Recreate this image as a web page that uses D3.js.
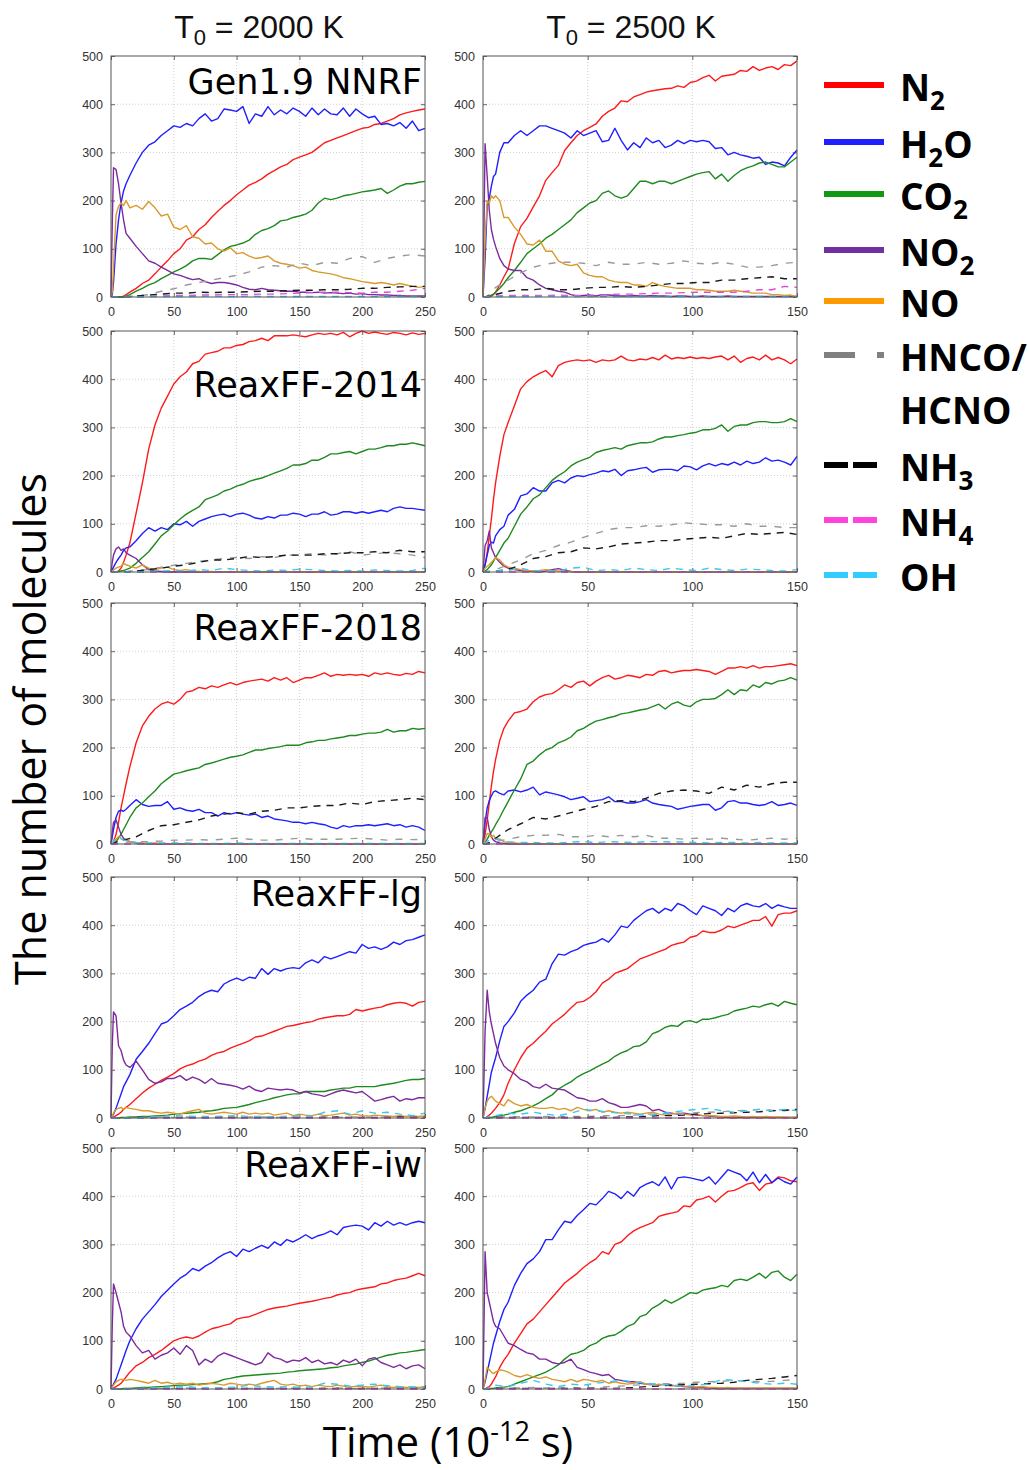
<!DOCTYPE html>
<html>
<head>
<meta charset="utf-8">
<script src="https://cdn.jsdelivr.net/npm/d3@7"></script>
<style>
body { margin: 0; background: #fff; }
svg { display: block; }
</style>
</head>
<body>
<script>
// time grids (ps): dense grid for the main species, coarse grid for the minor (dashed) ones
const tA = [0,1,2,4,6,8,10,12,15,20,25,30,35,40,45,50,55,60,65,70,75,80,85,90,95,100,105,110,115,120,125,130,135,140,145,150,155,160,165,170,175,180,185,190,195,200,205,210,215,220,225,230,235,240,245,250]
const tB = [0,1,2,3,4,5,6,8,10,12,15,18,21,24,27,30,33,36,39,42,45,48,51,54,57,60,63,66,69,72,75,78,81,84,87,90,93,96,99,102,105,108,111,114,117,120,123,126,129,132,135,138,141,144,147,150]
const tAm = [0,2,5,10,20,30,40,50,60,70,80,90,100,110,120,130,140,150,160,170,180,190,200,210,220,230,240,250]
const tBm = [0,1,3,6,12,18,24,30,36,42,48,54,60,66,72,78,84,90,96,102,108,114,120,126,132,138,144,150]

const species = ['N2', 'H2O', 'CO2', 'NO2', 'NO', 'HNCO/', 'NH3', 'NH4', 'OH']
const rowLabels = ['Gen1.9 NNRF', 'ReaxFF-2014', 'ReaxFF-2018', 'ReaxFF-lg', 'ReaxFF-iw']
const colTitles = ['2000 K', '2500 K']
const yTicks = [0, 100, 200, 300, 400, 500]
const xTicks2000 = [0, 50, 100, 150, 200, 250]
const xTicks2500 = [0, 50, 100, 150]

const none = [0,0,0,0,0,0,0,0,0,0, 0,0,0,0,0,0,0,0,0,0, 0,0,0,0,0,0,0,0]

// ---- Gen1.9 NNRF, 2000 K
const nnrf2000_N2 = [0,0,0,0,0,0,2,5,10, 18,28,35,48,62,75,90,100,118,125, 140,150,165,178,190,200,212,222,232,238, 245,255,262,270,275,285,290,295,300,310, 320,325,330,335,340,345,350,352,358,360, 365,370,378,382,385,388,390]
const nnrf2000_H2O = [0,5,30,110,160,195,220,235,252, 278,300,315,322,335,345,355,352,360,355, 370,380,365,370,390,388,385,395,360,380, 375,395,378,388,380,392,385,375,392,378, 390,380,378,392,375,390,380,372,375,358, 360,355,362,350,365,345,350]
const nnrf2000_CO2 = [0,0,0,0,0,0,0,2,5, 12,18,25,30,38,45,52,58,65,75, 80,80,78,88,98,105,108,112,118,130, 138,142,148,158,160,165,168,172,180,195, 205,202,205,210,212,215,218,220,222,225, 215,222,230,235,235,238,240]
const nnrf2000_NO2 = [0,150,268,265,235,195,160,132,122, 105,90,75,70,62,55,48,45,40,36, 38,32,28,30,30,28,25,20,16,15, 18,15,14,13,12,12,10,10,9,10, 8,9,8,7,8,6,7,5,5,4, 4,3,3,2,2,2,2]
const nnrf2000_NO = [0,10,60,170,188,195,190,200,185, 190,182,198,185,168,172,145,140,148,125, 122,110,112,100,95,102,90,92,85,80, 82,85,75,70,68,65,60,62,55,52, 50,48,45,40,38,35,32,30,28,30, 28,25,28,25,22,20,22]
const nnrf2000_HNCO = [0,0,0,0,2,5,12,17,25,30, 35,40,45,52,62,65,62,70,65,72, 70,80,84,72,80,85,88,85]
const nnrf2000_NH3 = [0,0,0,0,2,4,6,8,8,10, 9,10,10,11,12,12,13,14,14,15, 15,16,18,18,20,21,22,22]
const nnrf2000_NH4 = [0,0,0,0,0,1,2,3,3,4, 4,5,5,5,6,6,7,8,9,10, 10,9,8,10,10,12,14,18]
const nnrf2000_OH = [0,0,0,0,0,1,1,1,1,1, 2,1,1,2,1,1,1,1,1,1, 1,1,1,1,1,1,1,1]

// ---- Gen1.9 NNRF, 2500 K
const nnrf2500_N2 = [0,0,0,0,2,5,10,25,42, 58,111,146,163,187,210,242,258,273,304, 320,335,345,352,359,375,385,392,407,405, 415,420,425,428,430,432,433,438,435,445, 448,455,460,448,458,460,462,470,468,478, 470,475,478,472,482,480,490]
const nnrf2500_H2O = [0,80,190,205,230,250,255,300,320, 320,335,345,335,345,355,355,350,345,340, 330,345,335,340,345,322,325,350,325,305, 320,310,330,320,325,310,315,325,318,325, 322,325,322,308,310,295,300,295,292,288, 290,275,280,278,272,290,305]
const nnrf2500_CO2 = [0,0,0,2,4,6,10,18,28, 40,55,72,90,100,110,122,130,140,150, 160,175,185,195,200,215,220,210,205,210, 225,240,240,235,240,240,235,240,245,250, 255,258,260,245,255,240,252,262,268,272, 278,280,275,270,270,280,290]
const nnrf2500_NO2 = [0,318,250,180,140,120,105,80,65, 58,55,55,40,35,25,18,15,12,10, 5,2,3,4,2,5,4,3,2,2, 3,2,2,3,2,2,1,2,2,1, 1,2,1,1,1,2,1,1,1,1, 1,1,1,1,1,1,1]
const nnrf2500_NO = [0,120,200,195,210,205,210,200,165, 165,145,130,110,108,118,95,95,75,68, 65,68,50,45,42,42,35,32,30,30, 25,25,22,30,25,22,20,18,18,18, 15,15,14,12,12,12,14,12,10,8, 8,8,5,5,3,4,0]
const nnrf2500_HNCO = [0,0,5,20,35,50,62,68,72,72, 70,65,72,68,68,72,68,70,75,70, 68,72,68,62,62,65,70,72]
const nnrf2500_NH3 = [0,0,2,5,12,15,15,18,15,15, 18,20,20,22,20,22,25,28,28,30, 30,35,35,38,40,42,38,38]
const nnrf2500_NH4 = [0,0,1,2,3,3,3,3,4,3, 3,4,5,6,6,7,8,8,9,10, 10,10,10,12,15,15,22,20]
const nnrf2500_OH = [0,0,1,1,1,1,1,2,1,1, 1,1,1,1,1,1,1,1,1,1, 1,1,1,1,1,1,1,1]

// ---- ReaxFF-2014, 2000 K
const rx14_2000_N2 = [0,0,0,0,2,8,20,35,60, 122,185,255,305,340,365,390,405,415,432, 437,452,455,458,465,465,470,472,478,480, 485,480,490,490,490,492,490,488,492,495, 493,495,492,497,488,495,500,495,498,495, 493,497,495,492,496,493,495]
const rx14_2000_H2O = [0,5,10,20,28,35,45,50,52, 65,80,92,85,92,88,100,98,105,95, 105,110,115,118,120,115,120,122,118,112, 110,115,112,118,118,122,120,115,120,120, 125,118,120,125,125,122,125,122,125,128, 125,132,135,132,132,130,128]
const rx14_2000_CO2 = [0,0,0,0,1,2,3,5,8, 18,30,42,58,75,85,98,110,120,128, 135,150,155,160,168,172,178,182,188,192, 195,200,205,210,215,222,222,225,232,232, 238,245,245,248,250,245,250,255,255,258, 262,262,265,265,268,265,262]
const rx14_2000_NO2 = [0,20,35,48,52,45,48,40,35, 28,15,5,2,1,0,0,0,0,0, 0,0,0,0,0,0,0,0,0,0, 0,0,0,0,0,0,0,0,0,0, 0,0,0,0,0,0,0,0,0,0, 0,0,0,0,0,0,0]
const rx14_2000_NO = [0,2,4,8,10,12,18,15,12, 8,15,8,5,8,10,5,3,5,2, 1,0,1,0,0,1,0,0,0,0, 0,0,0,0,0,0,0,0,0,0, 0,0,0,0,0,0,0,0,0,0, 0,0,0,0,0,0,0]
const rx14_2000_HNCO = [0,0,0,0,3,5,10,14,18,22, 25,28,30,28,32,30,35,35,38,35, 38,42,35,38,40,38,35,30]
const rx14_2000_NH3 = [0,0,0,0,2,5,8,12,15,20, 25,25,28,32,30,32,35,35,35,38, 38,40,40,42,40,45,42,42]
const rx14_2000_OH = [0,0,0,0,0,1,2,3,2,5, 3,8,5,3,2,4,3,6,5,3, 2,3,2,4,3,2,3,8]

// ---- ReaxFF-2014, 2500 K
const rx14_2500_N2 = [0,15,40,75,110,150,185,240,285, 310,345,380,395,405,412,418,405,428,435, 438,440,438,440,435,440,438,440,448,440, 438,442,440,445,440,450,442,445,443,446, 443,445,443,446,448,440,448,435,443,446, 440,450,440,445,440,432,442]
const rx14_2500_H2O = [0,15,35,55,62,60,75,88,95, 118,130,158,162,175,168,168,185,190,185, 195,200,198,202,205,210,208,213,200,210, 212,215,217,207,212,213,213,210,220,218, 212,220,225,220,225,222,228,222,230,225, 228,237,230,232,228,222,240]
const rx14_2500_CO2 = [0,2,5,10,15,22,30,45,60, 70,95,120,135,152,160,175,190,200,208, 220,228,233,238,248,252,255,258,255,262, 265,268,268,270,276,280,280,283,285,288, 290,295,295,298,305,292,302,305,305,310, 312,312,310,310,312,318,312]
const rx14_2500_NO2 = [0,55,65,85,50,40,30,20,12, 8,5,3,2,1,0,2,5,7,4, 1,0,0,0,0,0,0,0,0,0, 0,0,0,0,0,0,0,0,0,0, 0,0,0,0,0,0,0,0,0,0, 0,0,0,0,0,0,0]
const rx14_2500_NO = [0,8,12,15,20,25,30,25,15, 10,8,5,3,2,3,5,3,2,1, 1,0,0,0,0,0,0,0,0,0, 0,0,0,0,0,0,0,0,0,0, 0,0,0,0,0,0,0,0,0,0, 0,0,0,0,0,0,0]
const rx14_2500_HNCO = [0,0,2,5,15,25,38,45,55,62, 72,80,88,92,92,96,95,98,102,100, 98,98,95,100,95,95,92,92]
const rx14_2500_NH3 = [0,0,0,2,5,15,28,32,40,42, 50,48,52,58,60,62,65,65,68,70, 72,70,75,80,78,80,82,78]
const rx14_2500_OH = [0,0,0,2,3,8,2,3,2,8, 10,3,5,3,8,5,3,8,5,3, 8,5,3,6,5,3,2,5]

// ---- ReaxFF-2018, 2000 K
const rx18_2000_N2 = [0,2,5,20,45,75,100,125,160, 210,245,265,280,290,295,290,300,315,318, 325,322,328,325,330,335,330,335,338,340, 342,338,345,340,345,335,340,345,345,350, 355,348,352,350,352,350,352,348,355,352, 355,352,350,354,352,358,355]
const rx18_2000_H2O = [0,15,30,55,68,70,68,72,80, 92,82,78,80,80,88,72,75,70,68, 72,65,65,58,65,62,65,62,60,62, 55,58,52,50,48,45,45,42,45,42, 40,35,32,38,35,38,38,40,38,40, 42,38,40,35,38,35,28]
const rx18_2000_CO2 = [0,0,1,5,12,20,30,40,55, 75,85,98,110,125,135,145,148,152,155, 158,165,168,172,176,180,182,185,190,195, 195,198,200,202,205,205,205,210,212,215, 215,218,220,222,225,225,228,230,230,232, 238,232,235,235,240,238,240]
const rx18_2000_NO2 = [0,25,45,50,35,20,12,8,5, 2,1,0,0,0,0,0,0,0,0, 0,0,0,0,0,0,0,0,0,0, 0,0,0,0,0,0,0,0,0,0, 0,0,0,0,0,0,0,0,0,0, 0,0,0,0,0,0,0]
const rx18_2000_NO = [0,2,5,10,15,12,8,10,5, 3,2,1,2,1,0,1,0,0,0, 0,0,0,0,0,0,0,0,0,0, 0,0,0,0,0,0,0,0,0,0, 0,0,0,0,0,0,0,0,0,0, 0,0,0,0,0,0,0]
const rx18_2000_HNCO = [0,0,2,3,5,5,6,8,8,9, 8,10,12,10,8,8,10,12,10,10, 10,11,12,10,8,10,9,10]
const rx18_2000_NH3 = [0,2,5,8,15,28,38,40,45,50, 58,62,65,62,68,70,75,75,78,80, 80,85,82,88,90,92,95,92]
const rx18_2000_OH = [0,5,15,8,3,2,2,2,2,1, 1,1,2,1,1,1,1,1,1,1, 1,1,1,1,1,1,1,1]

// ---- ReaxFF-2018, 2500 K
const rx18_2500_N2 = [0,20,50,85,120,150,175,215,240, 255,272,275,280,295,305,310,312,320,330, 325,335,338,328,338,345,350,342,345,350, 348,345,352,350,358,360,355,358,360,360, 362,360,358,352,358,365,365,368,365,370, 365,368,368,370,372,374,370]
const rx18_2500_H2O = [0,45,75,90,100,108,110,105,102, 110,112,108,112,118,102,108,105,102,98, 92,95,98,88,90,92,98,88,88,85, 85,88,92,85,82,80,78,72,75,78, 80,82,82,70,75,88,90,85,85,82, 80,82,88,80,82,85,80]
const rx18_2500_CO2 = [0,3,10,18,25,32,40,55,72, 88,112,135,165,172,185,195,200,210,215, 222,235,240,248,255,258,262,265,270,272, 275,278,280,285,290,280,290,295,288,285, 295,300,300,302,310,320,310,320,318,330, 325,335,332,338,340,345,340]
const rx18_2500_NO2 = [0,55,55,30,15,8,5,2,1, 0,0,0,0,0,0,0,0,0,0, 0,0,0,0,0,0,0,0,0,0, 0,0,0,0,0,0,0,0,0,0, 0,0,0,0,0,0,0,0,0,0, 0,0,0,0,0,0,0]
const rx18_2500_NO = [0,10,22,20,15,18,12,10,5, 3,2,1,1,0,0,0,0,0,0, 0,0,0,0,0,0,0,0,0,0, 0,0,0,0,0,0,0,0,0,0, 0,0,0,0,0,0,0,0,0,0, 0,0,0,0,0,0,0]
const rx18_2500_HNCO = [0,0,2,5,10,15,18,18,20,15, 15,18,15,18,15,18,12,12,10,12, 10,12,10,8,10,12,10,12]
const rx18_2500_NH3 = [0,0,3,12,30,42,55,52,58,65, 72,78,88,90,88,95,105,110,112,110, 105,118,112,122,118,125,128,128]
const rx18_2500_OH = [0,2,8,10,5,3,3,2,2,4, 5,3,5,4,3,5,5,4,4,3, 2,3,3,2,3,2,2,2]

// ---- ReaxFF-lg, 2000 K
const rxlg_2000_N2 = [0,0,2,5,8,12,18,22,28, 40,52,62,70,78,85,92,102,108,112, 118,122,130,135,138,145,150,155,160,168, 170,175,180,185,190,192,195,198,200,205, 208,210,212,212,215,225,222,225,228,230, 235,238,240,238,232,240,242]
const rxlg_2000_H2O = [0,4,8,20,35,50,65,75,90, 122,138,155,175,195,200,212,225,232,240, 252,260,265,262,278,285,290,285,292,290, 310,298,310,305,310,312,310,322,328,322, 335,330,335,340,345,342,360,352,355,350, 355,365,360,368,370,375,380]
const rxlg_2000_CO2 = [0,0,0,0,0,1,1,1,2, 2,3,3,4,5,6,8,9,10,11, 12,14,15,17,20,21,22,25,28,32, 35,38,42,45,48,50,50,55,55,55, 55,58,60,62,62,65,65,65,65,68, 70,72,75,78,80,80,82]
const rxlg_2000_NO2 = [0,150,220,212,150,140,120,110,105, 118,100,80,72,75,82,82,88,78,85, 80,72,82,72,70,68,65,60,66,58, 55,62,60,58,60,58,52,55,50,48, 45,50,55,58,55,52,55,45,35,38, 42,45,35,40,38,42,42]
const rxlg_2000_NO = [0,5,10,18,20,22,18,22,20, 18,15,15,12,10,12,10,8,12,15, 18,10,8,10,12,10,8,12,8,10, 8,10,6,8,10,5,8,6,5,8, 5,6,8,10,6,8,5,4,6,5, 4,3,5,3,4,3,4]
const rxlg_2000_HNCO = [0,0,0,1,1,1,2,1,2,1, 2,2,1,2,2,1,2,1,2,2, 1,2,2,1,2,2,1,2]
const rxlg_2000_NH3 = [0,0,0,0,1,1,1,1,1,1, 1,2,1,1,1,2,1,1,1,1, 2,1,1,1,1,2,1,1]
const rxlg_2000_OH = [0,0,0,0,0,2,3,5,4,3, 3,4,5,3,3,2,4,5,4,12, 15,8,15,10,12,8,5,10]

// ---- ReaxFF-lg, 2500 K
const rxlg_2500_N2 = [0,0,3,6,10,15,20,32,48, 72,100,125,145,155,168,180,195,205,215, 228,240,242,250,262,280,288,300,305,310, 320,330,335,340,345,350,358,362,365,375, 378,388,385,385,390,398,395,400,405,410, 410,418,398,422,425,425,430]
const rxlg_2500_H2O = [0,20,45,70,95,110,125,160,190, 200,218,242,255,265,282,288,320,340,338, 345,350,358,362,365,372,365,380,398,395, 410,420,430,435,425,435,430,445,440,430, 422,440,435,430,420,435,428,440,445,440, 438,445,435,442,438,435,435]
const rxlg_2500_CO2 = [0,0,0,1,1,2,3,5,6, 8,12,15,20,25,32,40,48,60,68, 75,85,92,98,105,112,118,128,135,140, 148,150,158,175,180,188,192,190,200,202, 198,205,205,208,212,215,222,225,228,232, 230,235,238,232,242,238,235]
const rxlg_2500_NO2 = [0,180,265,220,195,175,155,125,108, 100,92,80,75,65,62,70,62,60,58, 50,42,40,35,35,40,32,28,22,22, 25,28,25,15,18,12,10,8,10,8, 6,5,4,3,2,1,1,1,1,1, 1,1,1,1,1,1,1]
const rxlg_2500_NO = [0,20,35,42,45,40,35,30,25, 38,30,25,28,22,20,20,22,18,20, 15,22,18,15,18,12,15,12,10,12, 10,8,10,12,8,6,8,10,8,6, 8,5,5,4,3,3,4,3,2,3, 2,3,2,2,2,1,2]
const rxlg_2500_HNCO = [0,0,1,2,2,3,2,3,2,3, 3,4,5,5,6,8,8,10,10,11, 12,13,15,16,18,16,15,18]
const rxlg_2500_NH3 = [0,0,0,1,1,1,1,1,1,1, 1,2,1,2,2,3,5,5,6,8, 9,10,11,12,13,15,16,18]
const rxlg_2500_OH = [0,0,3,5,10,8,12,8,5,10, 18,15,12,10,8,5,8,12,15,18, 20,15,12,15,18,15,18,15]

// ---- ReaxFF-iw, 2000 K
const rxiw_2000_N2 = [0,0,2,5,8,12,18,25,35, 48,55,65,72,80,90,100,105,108,105, 110,118,125,128,132,135,145,148,150,155, 160,165,168,170,172,175,178,180,182,185, 188,190,195,198,200,205,208,210,212,218, 220,225,228,230,235,240,235]
const rxiw_2000_H2O = [0,5,10,20,35,50,65,80,100, 125,145,160,175,192,205,218,230,238,250, 245,255,262,272,280,285,275,290,285,292, 298,292,305,298,310,305,312,320,312,318, 322,328,320,335,338,340,338,330,345,338, 348,340,345,340,345,348,345]
const rxiw_2000_CO2 = [0,0,0,0,0,0,1,1,1, 2,3,3,4,5,6,7,8,8,9, 10,11,12,15,20,22,25,27,28,29, 30,31,32,33,35,36,38,39,40,41, 42,44,45,48,50,52,55,58,62,66, 70,72,75,76,78,80,82]
const rxiw_2000_NO2 = [0,130,218,200,180,160,130,118,110, 90,75,80,62,70,75,85,72,90,80, 50,62,55,68,75,70,65,60,55,50, 55,75,65,62,55,60,58,65,55,60, 52,55,50,60,55,62,48,62,65,55, 50,45,50,42,48,50,42]
const rxiw_2000_NO = [0,5,8,15,18,20,20,18,20, 18,15,12,18,12,14,10,12,10,12, 8,10,12,10,8,12,10,8,10,8, 12,15,18,10,8,10,6,8,5,8, 6,5,8,6,4,6,5,4,6,8, 5,3,5,3,4,3,4]
const rxiw_2000_HNCO = [0,0,0,1,1,1,1,1,2,1, 1,1,2,1,1,1,2,1,1,1, 2,1,1,1,2,1,1,1]
const rxiw_2000_NH3 = [0,0,0,0,1,1,1,1,1,1, 1,1,1,1,1,1,1,1,1,1, 1,1,1,1,1,1,1,1]
const rxiw_2000_OH = [0,0,0,0,1,2,3,4,5,3, 2,3,4,8,5,4,5,3,5,12, 10,6,8,10,7,5,4,5]

// ---- ReaxFF-iw, 2500 K
const rxiw_2500_N2 = [0,0,3,5,10,18,25,45,60, 72,95,115,135,145,160,175,190,205,220, 230,240,252,262,270,285,280,300,305,318, 328,335,340,345,358,362,365,368,380,378, 392,395,400,388,400,410,412,418,425,428, 412,425,428,440,438,432,430]
const rxiw_2500_H2O = [0,15,35,55,75,95,110,140,165, 180,215,240,260,270,285,310,310,330,348, 345,360,372,385,382,395,410,405,395,410, 400,418,425,430,422,440,415,438,440,438, 435,432,440,425,440,455,450,445,432,450, 428,445,428,438,430,425,440]
const rxiw_2500_CO2 = [0,0,0,1,1,1,2,3,4, 5,10,15,20,25,30,35,42,50,62, 72,75,80,90,95,105,110,112,120,130, 135,150,155,168,175,185,178,185,192,200, 198,205,208,210,215,212,225,228,225,232, 240,230,242,245,232,225,238]
const rxiw_2500_NO2 = [0,285,200,180,160,140,130,125,110, 95,90,82,75,72,62,62,55,52,55, 62,45,40,35,32,28,30,20,18,15, 15,12,10,10,8,10,8,6,5,4, 3,3,2,1,1,1,1,1,1,1, 1,1,1,1,1,1,1]
const rxiw_2500_NO = [0,20,45,40,35,32,35,40,38, 35,28,25,30,25,22,25,20,18,15, 20,15,20,18,15,18,12,15,12,10, 12,15,10,8,10,8,6,8,6,5, 4,5,3,3,2,3,2,2,2,2, 2,2,2,2,2,2,2]
const rxiw_2500_HNCO = [0,0,1,2,2,2,3,2,2,3, 2,3,5,6,8,9,10,11,12,14, 15,16,18,16,15,16,18,20]
const rxiw_2500_NH3 = [0,0,0,1,1,1,1,1,1,1, 1,1,1,2,3,5,6,8,9,10, 11,12,14,18,20,22,25,28]
const rxiw_2500_OH = [0,0,2,8,5,12,18,10,5,10, 8,12,15,18,15,12,10,8,5,8, 10,20,18,15,12,10,12,10]

// series order follows `species`
const panelData = [
    [nnrf2000_N2, nnrf2000_H2O, nnrf2000_CO2, nnrf2000_NO2, nnrf2000_NO, nnrf2000_HNCO, nnrf2000_NH3, nnrf2000_NH4, nnrf2000_OH],
    [nnrf2500_N2, nnrf2500_H2O, nnrf2500_CO2, nnrf2500_NO2, nnrf2500_NO, nnrf2500_HNCO, nnrf2500_NH3, nnrf2500_NH4, nnrf2500_OH],
    [rx14_2000_N2, rx14_2000_H2O, rx14_2000_CO2, rx14_2000_NO2, rx14_2000_NO, rx14_2000_HNCO, rx14_2000_NH3, none, rx14_2000_OH],
    [rx14_2500_N2, rx14_2500_H2O, rx14_2500_CO2, rx14_2500_NO2, rx14_2500_NO, rx14_2500_HNCO, rx14_2500_NH3, none, rx14_2500_OH],
    [rx18_2000_N2, rx18_2000_H2O, rx18_2000_CO2, rx18_2000_NO2, rx18_2000_NO, rx18_2000_HNCO, rx18_2000_NH3, none, rx18_2000_OH],
    [rx18_2500_N2, rx18_2500_H2O, rx18_2500_CO2, rx18_2500_NO2, rx18_2500_NO, rx18_2500_HNCO, rx18_2500_NH3, none, rx18_2500_OH],
    [rxlg_2000_N2, rxlg_2000_H2O, rxlg_2000_CO2, rxlg_2000_NO2, rxlg_2000_NO, rxlg_2000_HNCO, rxlg_2000_NH3, none, rxlg_2000_OH],
    [rxlg_2500_N2, rxlg_2500_H2O, rxlg_2500_CO2, rxlg_2500_NO2, rxlg_2500_NO, rxlg_2500_HNCO, rxlg_2500_NH3, none, rxlg_2500_OH],
    [rxiw_2000_N2, rxiw_2000_H2O, rxiw_2000_CO2, rxiw_2000_NO2, rxiw_2000_NO, rxiw_2000_HNCO, rxiw_2000_NH3, none, rxiw_2000_OH],
    [rxiw_2500_N2, rxiw_2500_H2O, rxiw_2500_CO2, rxiw_2500_NO2, rxiw_2500_NO, rxiw_2500_HNCO, rxiw_2500_NH3, none, rxiw_2500_OH]
]

// styles
const lineColors = ['#ff1a1a', '#1f1fff', '#1e8a1e', '#7d2a9c', '#d99a2c', '#9a9a9a', '#1a1a1a', '#e845d8', '#3cc8f0']
const legendColors = ['#ff0000', '#2020ff', '#119911', '#7030a0', '#ff9900', '#808080', '#000000', '#ff44dd', '#33ccff']
const lineDash = [null, null, null, null, null, '7,8', '7,6', '7,6', '7,6']

const colX = [111, 483]
const rowY = [56, 331, 603, 877, 1148]
const labelY = [94, 397, 640, 906, 1177]
const pw = 314, ph = 241

const svg = d3.select('body').append('svg')
    .attr('width', 1030)
    .attr('height', 1470)

panelData.forEach((series, i) => {
    const row = Math.floor(i / 2), col = i % 2
    const x0 = colX[col], y0 = rowY[row]
    const times = col === 0 ? tA : tB
    const timesM = col === 0 ? tAm : tBm
    const xTicks = col === 0 ? xTicks2000 : xTicks2500

    const xScale = d3.scaleLinear()
        .domain([0, col === 0 ? 250 : 150])
        .range([x0, x0 + pw])
    const yScale = d3.scaleLinear()
        .domain([0, 500])
        .range([y0 + ph, y0])

    const g = svg.append('g')

    // dotted grid
    g.selectAll('.gx').data(xTicks.slice(1, -1)).enter().append('line')
        .attr('x1', d => xScale(d)).attr('x2', d => xScale(d))
        .attr('y1', y0).attr('y2', y0 + ph)
        .attr('stroke', '#cfcfcf').attr('stroke-dasharray', '1,2')
    g.selectAll('.gy').data(yTicks.slice(1, -1)).enter().append('line')
        .attr('x1', x0).attr('x2', x0 + pw)
        .attr('y1', d => yScale(d)).attr('y2', d => yScale(d))
        .attr('stroke', '#cfcfcf').attr('stroke-dasharray', '1,2')

    // axes, gnuplot-like inward ticks
    g.append('g')
        .attr('transform', 'translate(' + x0 + ',0)')
        .call(d3.axisLeft(yScale).tickValues(yTicks).tickSizeInner(-4).tickSizeOuter(0).tickPadding(8))
    g.append('g')
        .attr('transform', 'translate(0,' + (y0 + ph) + ')')
        .call(d3.axisBottom(xScale).tickValues(xTicks).tickSizeInner(-4).tickSizeOuter(0).tickPadding(10))
    g.append('g')
        .attr('transform', 'translate(' + (x0 + pw) + ',0)')
        .call(d3.axisRight(yScale).tickValues(yTicks).tickSizeInner(-4).tickSizeOuter(0).tickFormat(''))
    g.append('g')
        .attr('transform', 'translate(0,' + y0 + ')')
        .call(d3.axisTop(xScale).tickValues(xTicks).tickSizeInner(-4).tickSizeOuter(0).tickFormat(''))

    g.selectAll('.domain').remove()
    g.selectAll('.tick line').attr('stroke', '#666')
    g.selectAll('.tick text')
        .attr('font-family', 'Liberation Sans, Arial, sans-serif')
        .attr('font-size', 12.5)
        .attr('fill', '#333')

    // species lines
    const line = d3.line()
        .x(d => xScale(d[0]))
        .y(d => yScale(d[1]))

    series.forEach((vals, k) => {
        const t = k < 5 ? times : timesM
        g.append('path')
            .datum(d3.zip(t, vals))
            .attr('d', line)
            .attr('fill', 'none')
            .attr('stroke', lineColors[k])
            .attr('stroke-width', 1.4)
            .attr('stroke-linejoin', 'round')
            .attr('stroke-dasharray', lineDash[k])
    })

    // frame
    g.append('rect')
        .attr('x', x0).attr('y', y0)
        .attr('width', pw).attr('height', ph)
        .attr('fill', 'none')
        .attr('stroke', '#555')
        .attr('stroke-width', 1)

    // force-field name in the left column
    if (col === 0) {
        g.append('text')
            .attr('x', x0 + pw - 3)
            .attr('y', labelY[row])
            .attr('text-anchor', 'end')
            .attr('font-family', 'DejaVu Sans, Verdana, sans-serif')
            .attr('font-size', 35)
            .attr('fill', '#000')
            .text(rowLabels[row])
    }
})

// column titles
colTitles.forEach((s, c) => {
    const t = svg.append('text')
        .attr('x', [259, 631][c])
        .attr('y', 38)
        .attr('text-anchor', 'middle')
        .attr('font-family', 'Liberation Sans, Arial, sans-serif')
        .attr('font-size', 32)
        .attr('fill', '#111')
    t.append('tspan').text('T')
    t.append('tspan').attr('font-size', 22).attr('dy', 7).text('0')
    t.append('tspan').attr('dy', -7).text(' = ' + s)
})

// axis titles
svg.append('text')
    .attr('transform', 'translate(46,729) rotate(-90)')
    .attr('text-anchor', 'middle')
    .attr('font-family', 'Open Sans, sans-serif')
    .attr('font-size', 43)
    .attr('fill', '#000')
    .text('The number of molecules')

const xl = svg.append('text')
    .attr('x', 448)
    .attr('y', 1457)
    .attr('text-anchor', 'middle')
    .attr('font-family', 'Open Sans, sans-serif')
    .attr('font-size', 42)
    .attr('fill', '#000')
xl.append('tspan').text('Time (10')
xl.append('tspan').attr('font-size', 27).attr('dy', -16).text('-12')
xl.append('tspan').attr('dy', 16).text(' s)')

// legend
const legendY = [85, 142, 194, 250, 301, 355, 465, 520, 575]
const legendDash = [null, null, null, null, null, '31,22,7', '24,5', '24,5', '24,5']
const legendLen = [60, 60, 60, 60, 60, 60, 53, 53, 53]

// writes a label with its digits as subscripts
function chemText(sel, name) {
    let shift = 0
    name.split(/(\d+)/).filter(s => s.length).forEach(part => {
        if (/^\d+$/.test(part)) {
            sel.append('tspan').attr('font-size', 26).attr('dy', 9).text(part)
            shift = 9
        } else {
            sel.append('tspan').attr('dy', shift ? -shift : null).text(part)
            shift = 0
        }
    })
}

species.forEach((s, k) => {
    svg.append('line')
        .attr('x1', 824).attr('x2', 824 + legendLen[k])
        .attr('y1', legendY[k]).attr('y2', legendY[k])
        .attr('stroke', legendColors[k])
        .attr('stroke-width', 6)
        .attr('stroke-dasharray', legendDash[k])
    const t = svg.append('text')
        .attr('x', 900)
        .attr('y', legendY[k] + 16)
        .attr('font-family', 'Open Sans, sans-serif')
        .attr('font-weight', 700)
        .attr('font-size', 37)
        .attr('fill', '#000')
    chemText(t, s)
})
svg.append('text')
    .attr('x', 900)
    .attr('y', legendY[5] + 16 + 53)
    .attr('font-family', 'Open Sans, sans-serif')
    .attr('font-weight', 700)
    .attr('font-size', 37)
    .attr('fill', '#000')
    .text('HCNO')
</script>
</body>
</html>
